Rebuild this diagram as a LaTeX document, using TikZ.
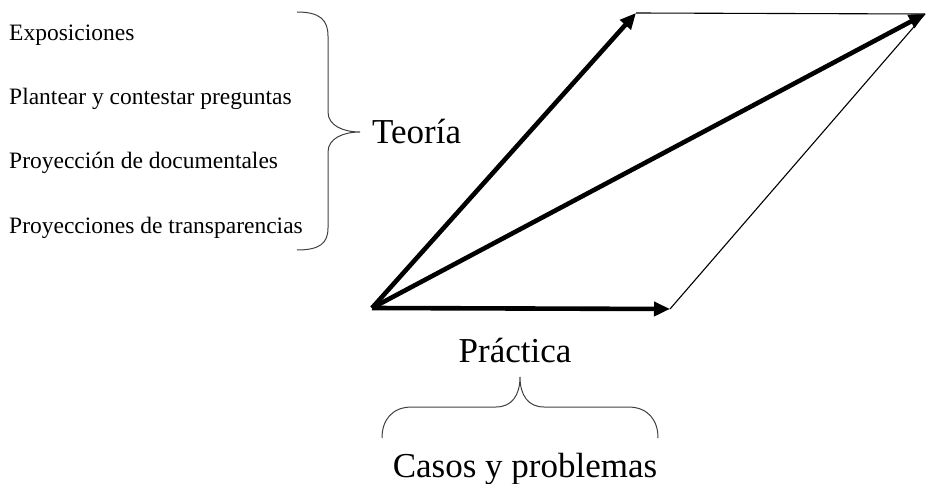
\documentclass[tikz,border=0pt]{standalone}
\usepackage{fontspec}
\setmainfont{Liberation Serif}
\usetikzlibrary{arrows.meta}
\begin{document}
\begin{tikzpicture}[x=1pt,y=-1pt,
  vec/.style={line width=4.6pt,-{Triangle[length=16pt,width=14pt]}},
  thinline/.style={line width=1.1pt},
  bracestyle/.style={line width=1pt,black!75},
  small/.style={font=\fontsize{23.5}{27}\selectfont,inner sep=0pt},
  big/.style={font=\fontsize{35}{40}\selectfont,inner sep=0pt}]
\useasboundingbox (0,0) rectangle (926,484);
% points
\coordinate (O) at (372,308);
\coordinate (A) at (636,13);
\coordinate (B) at (925,14);
\coordinate (C) at (670,309);
% thin sides
\draw[thinline] (A) -- (B);
\draw[thinline] (C) -- (B);
% vectors
\draw[vec] (O) -- (A);
\draw[vec] (O) -- (B);
\draw[vec] (O) -- (C);
% left texts
\node[small,anchor=base west] (t1) at (9,41) {Exposiciones};
\node[small,anchor=base west] (t2) at (9,105) {Plantear y contestar preguntas};
\node[small,anchor=base west] (t3) at (9,168) {Proyección de documentales};
\node[small,anchor=base west] (t4) at (9,233) {Proyecciones de transparencias};
% left brace
\draw[bracestyle] (297,12) .. controls (320,12) and (328,20) .. (328,36) -- (328,112)
  .. controls (328,126) and (344,132) .. (360,132)
  .. controls (344,132) and (328,138) .. (328,152) -- (328,228)
  .. controls (328,243) and (320,250) .. (297,250);
\node[big,anchor=base west] (teoria) at (372,143) {Teoría};
% bottom
\node[big,anchor=base] (practica) at (515,362) {Práctica};
\draw[bracestyle] (382,438) .. controls (382,420) and (392,407) .. (412,407) -- (496,407)
  .. controls (512,407) and (520,395) .. (520,377)
  .. controls (520,395) and (528,407) .. (544,407) -- (628,407)
  .. controls (648,407) and (658,420) .. (658,438);
\node[big,anchor=base] (casos) at (525,477) {Casos y problemas};
\end{tikzpicture}
\end{document}
